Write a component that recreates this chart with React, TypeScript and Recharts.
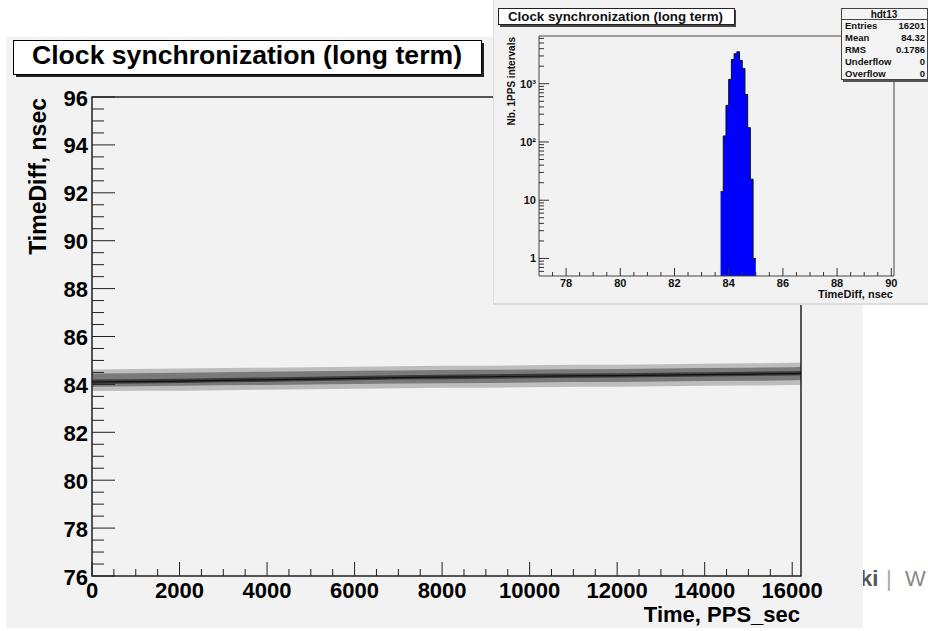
import React from 'react';
import { ComposedChart, Area, Line, XAxis, YAxis, ReferenceArea } from 'recharts';

const FONT = '"Liberation Sans", Arial, Helvetica, sans-serif';

// main plot: time vs time difference band
const times = [0, 1000, 2000, 3000, 4000, 5000, 6000, 7000, 8000, 9000, 10000, 11000, 12000, 13000, 14000, 15000, 16000, 16201];
const bandMean = [84.10, 84.12, 84.14, 84.17, 84.19, 84.22, 84.25, 84.28, 84.30, 84.32, 84.34, 84.36, 84.37, 84.39, 84.41, 84.43, 84.45, 84.46];
const coreLow = [83.90, 83.92, 83.94, 83.96, 83.98, 84.00, 84.02, 84.04, 84.05, 84.06, 84.08, 84.10, 84.10, 84.12, 84.14, 84.15, 84.17, 84.18];
const coreHigh = [84.45, 84.47, 84.49, 84.51, 84.53, 84.55, 84.57, 84.58, 84.60, 84.61, 84.62, 84.63, 84.64, 84.66, 84.68, 84.70, 84.72, 84.73];
const outerLow = [83.72, 83.74, 83.74, 83.76, 83.78, 83.80, 83.82, 83.84, 83.86, 83.86, 83.88, 83.90, 83.90, 83.92, 83.94, 83.95, 83.97, 83.98];
const outerHigh = [84.62, 84.64, 84.66, 84.68, 84.70, 84.72, 84.74, 84.76, 84.78, 84.78, 84.80, 84.82, 84.82, 84.84, 84.86, 84.88, 84.90, 84.90];

const mainYTicks = [76, 76.5, 77, 77.5, 78, 78.5, 79, 79.5, 80, 80.5, 81, 81.5, 82, 82.5, 83, 83.5, 84, 84.5, 85, 85.5, 86, 86.5, 87, 87.5, 88, 88.5, 89, 89.5, 90, 90.5, 91, 91.5, 92, 92.5, 93, 93.5, 94, 94.5, 95, 95.5, 96];
const mainXTicks = [0, 500, 1000, 1500, 2000, 2500, 3000, 3500, 4000, 4500, 5000, 5500, 6000, 6500, 7000, 7500, 8000, 8500, 9000, 9500, 10000, 10500, 11000, 11500, 12000, 12500, 13000, 13500, 14000, 14500, 15000, 15500, 16000];

// inset histogram (0.1 ns bins)
const histEdges = [83.7, 83.8, 83.9, 84.0, 84.1, 84.2, 84.3, 84.4, 84.5, 84.6, 84.7, 84.8, 84.9, 85.0];
const histCounts = [14, 127, 425, 1186, 2613, 3268, 3536, 2512, 1832, 656, 176, 23, 1];

const insetXTicks = [77.5, 78, 78.5, 79, 79.5, 80, 80.5, 81, 81.5, 82, 82.5, 83, 83.5, 84, 84.5, 85, 85.5, 86, 86.5, 87, 87.5, 88, 88.5, 89, 89.5, 90];
const insetYTicks = [0.6, 0.7, 0.8, 0.9, 1, 2, 3, 4, 5, 6, 7, 8, 9, 10, 20, 30, 40, 50, 60, 70, 80, 90, 100, 200, 300, 400, 500, 600, 700, 800, 900, 1000, 2000, 3000, 4000, 5000, 6000];
const insetYLabels: Record<number, string> = { 1: '1', 10: '10', 100: '10\u00B2', 1000: '10\u00B3' };

const statNames = ['Entries', 'Mean', 'RMS', 'Underflow', 'Overflow'];
const statValues = ['16201', '84.32', '0.1786', '0', '0'];

const bandData = times.map((t, i) => ({
    t,
    mean: bandMean[i],
    core: [coreLow[i], coreHigh[i]],
    outer: [outerLow[i], outerHigh[i]],
    inner: [bandMean[i] - 0.08, bandMean[i] + 0.1],
}));

const histData = histEdges.map((x, i) => ({ x, n: histCounts[Math.min(i, histCounts.length - 1)] }));

const MainYTick = ({ x, y, payload }: any) => {
    const v = payload.value;
    const major = v % 2 === 0;
    return (
        <g>
            <line x1={x} x2={x + (major ? 23 : 12)} y1={y} y2={y} stroke="#222" strokeWidth={1} />
            {major && (
                <text x={x - 4} y={y + 1} textAnchor="end" dominantBaseline="central"
                    fontFamily={FONT} fontSize={22} fontWeight="bold" fill="#000">{v}</text>
            )}
        </g>
    );
};

const MainXTick = ({ x, y, payload }: any) => {
    const v = payload.value;
    const major = v % 2000 === 0;
    return (
        <g>
            <line x1={x} x2={x} y1={y} y2={y - (major ? 14 : 7)} stroke="#222" strokeWidth={1} />
            {major && (
                <text x={x} y={y + 22} textAnchor="middle"
                    fontFamily={FONT} fontSize={22} fontWeight="bold" fill="#000">{v}</text>
            )}
        </g>
    );
};

const InsetXTick = ({ x, y, payload }: any) => {
    const v = payload.value;
    const major = v % 2 === 0;
    return (
        <g>
            <line x1={x} x2={x} y1={y} y2={y - (major ? 8 : 4)} stroke="#333" />
            {major && (
                <text x={x} y={y + 11} textAnchor="middle"
                    fontFamily={FONT} fontSize={11} fontWeight="bold" fill="#111">{v}</text>
            )}
        </g>
    );
};

const InsetYTick = ({ x, y, payload }: any) => {
    const v = payload.value;
    const label = insetYLabels[v];
    return (
        <g>
            <line x1={x} x2={x + (label ? 10 : 5)} y1={y} y2={y} stroke="#333" />
            {label && (
                <text x={x - 3} y={y} textAnchor="end" dominantBaseline="central"
                    fontFamily={FONT} fontSize={11} fontWeight="bold" fill="#111">{label}</text>
            )}
        </g>
    );
};

export default function App() {
    return (
        <div style={{ position: 'absolute', left: 0, top: 0, width: 928, height: 631, background: '#fff', overflow: 'hidden', fontFamily: FONT }}>
            <svg width={928} height={631} style={{ position: 'absolute', left: 0, top: 0 }}>
                <text y={586} fontFamily={FONT} fontSize={22}>
                    <tspan x={860} fontWeight="bold" fill="#555">ki</tspan>
                    <tspan x={886} fill="#aaa">|</tspan>
                    <tspan x={905} fill="#8a8a8a">W</tspan>
                </text>
            </svg>
            <div style={{ position: 'absolute', left: 6, top: 37, width: 857, height: 591, background: '#f2f2f2' }} />

            <div style={{ position: 'absolute', left: 0, top: 0 }}>
                <ComposedChart width={928} height={631} data={bandData}
                    margin={{ top: 97, right: 127, left: 52, bottom: 25 }}>
                    <XAxis dataKey="t" type="number" domain={[0, 16201]} ticks={mainXTicks} interval={0}
                        allowDataOverflow height={30} tickSize={0} tickMargin={0} tickLine={false} axisLine={false}
                        tick={(p: any) => <MainXTick {...p} />} />
                    <YAxis type="number" domain={[76, 96]} ticks={mainYTicks} interval={0}
                        allowDataOverflow width={40} tickSize={0} tickMargin={0} tickLine={false} axisLine={false}
                        tick={(p: any) => <MainYTick {...p} />} />
                    <Area dataKey="outer" type="linear" stroke="none" fill="#bdbdbd" fillOpacity={1} isAnimationActive={false} />
                    <Area dataKey="core" type="linear" stroke="none" fill="#7a7a7a" fillOpacity={1} isAnimationActive={false} />
                    <Area dataKey="inner" type="linear" stroke="none" fill="#3c3c3c" fillOpacity={1} isAnimationActive={false} />
                    <Line dataKey="mean" type="linear" stroke="#111" strokeWidth={1.2} dot={false} isAnimationActive={false} />
                    <ReferenceArea x1={0} x2={16201} y1={76} y2={96} fill="none" stroke="#222" strokeWidth={1.5} />
                </ComposedChart>
            </div>

            <svg width={928} height={631} style={{ position: 'absolute', left: 0, top: 0 }}>
                <rect x={16} y={43} width={468} height={34} fill="#222" />
                <rect x={13.5} y={40.5} width={468} height={34} fill="#fff" stroke="#000" />
                <text x={32} y={64} textLength={430} lengthAdjust="spacingAndGlyphs"
                    fontFamily={FONT} fontSize={25} fontWeight="bold" fill="#000">Clock synchronization (long term)</text>
                <text x={46} y={98} transform="rotate(-90 46 98)" textAnchor="end"
                    fontFamily={FONT} fontSize={23} fontWeight="bold" fill="#000">TimeDiff, nsec</text>
                <text x={800} y={622} textAnchor="end" fontFamily={FONT} fontSize={22} fontWeight="bold" fill="#000">Time, PPS_sec</text>
            </svg>

            <div style={{ position: 'absolute', left: 493, top: 0, width: 435, height: 305, background: '#f2f2f2', borderLeft: '1px solid #ddd', borderBottom: '2px solid #ddd', boxSizing: 'border-box' }} />
            <div style={{ position: 'absolute', left: 493, top: 0 }}>
                <ComposedChart width={435} height={305} data={histData}
                    margin={{ top: 36, right: 34, left: 16, bottom: 9 }}>
                    <XAxis dataKey="x" type="number" domain={[77, 90.1]} ticks={insetXTicks} interval={0}
                        allowDataOverflow height={20} tickSize={0} tickMargin={0} tickLine={false} axisLine={false}
                        tick={(p: any) => <InsetXTick {...p} />} />
                    <YAxis type="number" scale="log" domain={[0.5, 6600]} ticks={insetYTicks} interval={0}
                        allowDataOverflow width={30} tickSize={0} tickMargin={0} tickLine={false} axisLine={false}
                        tick={(p: any) => <InsetYTick {...p} />} />
                    <Area dataKey="n" type="stepAfter" baseValue={0.5} stroke="#111" strokeWidth={1}
                        fill="#0000ff" fillOpacity={1} isAnimationActive={false} />
                    <ReferenceArea x1={77} x2={90.1} y1={0.5} y2={6600} fill="none" stroke="#444" strokeWidth={1} />
                </ComposedChart>
            </div>

            <svg width={928} height={631} style={{ position: 'absolute', left: 0, top: 0 }}>
                <rect x={500} y={10} width={236} height={17} fill="#444" />
                <rect x={498.5} y={8.5} width={236} height={16} fill="#fff" stroke="#222" />
                <text x={508} y={21} textLength={215} lengthAdjust="spacingAndGlyphs"
                    fontFamily={FONT} fontSize={12.5} fontWeight="bold" fill="#111">Clock synchronization (long term)</text>

                <rect x={843} y={10} width={86} height={72} fill="#555" />
                <rect x={841.5} y={8.5} width={86} height={71} fill="#f4f4f4" stroke="#444" />
                <line x1={841.5} x2={928} y1={19.5} y2={19.5} stroke="#444" />
                <text x={884} y={17.5} textAnchor="middle" fontFamily={FONT} fontSize={10} fontWeight="bold" fill="#111">hdt13</text>
                {statNames.map((name, i) => (
                    <g key={name}>
                        <text x={845} y={29 + i * 12} fontFamily={FONT} fontSize={9.5} fontWeight="bold" fill="#111">{name}</text>
                        <text x={925} y={29 + i * 12} textAnchor="end" fontFamily={FONT} fontSize={9.5} fontWeight="bold" fill="#111">{statValues[i]}</text>
                    </g>
                ))}

                <text x={515} y={37} transform="rotate(-90 515 37)" textAnchor="end"
                    fontFamily={FONT} fontSize={10} fontWeight="bold" fill="#111">Nb. 1PPS intervals</text>
                <text x={893} y={298} textAnchor="end" fontFamily={FONT} fontSize={11} fontWeight="bold" fill="#111">TimeDiff, nsec</text>
            </svg>
        </div>
    );
}
